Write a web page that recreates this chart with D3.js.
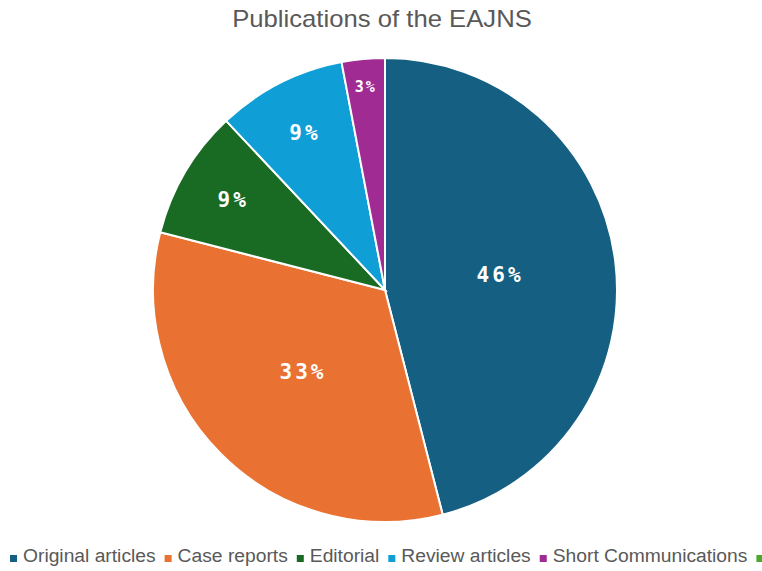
<!DOCTYPE html>
<html>
<head>
<meta charset="utf-8">
<script src="https://cdn.jsdelivr.net/npm/d3@7"></script>
<style>
  body { margin: 0; background: #fff; }
  svg { display: block; }
</style>
</head>
<body>
<svg id="chart" width="762" height="571"></svg>
<script>
// data (percent of all publications)
// the sixth legend entry is cut off at the right edge in the reference, only its marker shows
const categories = ["Original articles", "Case reports", "Editorial", "Review articles", "Short Communications", ""];
const shares = [46, 33, 9, 9, 3, 0];
const colours = ["#156082", "#E97132", "#196B24", "#0F9ED5", "#A02B93", "#4EA72E"];

let svg = d3.select("#chart");
let width = 762, height = 571;
let centre = [385, 290], radius = 232;
let stretch = 1.07; // the reference text is a little wider than plain Arial

svg.append("text")
  .attr("transform", `translate(${width / 2 + 1},27) scale(${stretch},1)`)
  .attr("text-anchor", "middle")
  .attr("font-family", "'Liberation Sans', Arial, sans-serif")
  .attr("font-size", 24)
  .attr("fill", "#595959")
  .text("Publications of the EAJNS");

let data = categories.map((c, i) => ({name: c, value: shares[i], colour: colours[i]}));
let total = d3.sum(shares);

let pie = d3.pie().sort(null).value(d => d.value);
let arc = d3.arc().innerRadius(0).outerRadius(radius);
let arcs = pie(data).filter(d => d.data.value > 0);

let g = svg.append("g").attr("transform", `translate(${centre[0]},${centre[1]})`);

g.selectAll("path")
  .data(arcs)
  .enter().append("path")
    .attr("d", arc)
    .attr("fill", d => d.data.colour)
    .attr("stroke", "#fff")
    .attr("stroke-width", 2);

// label distance depends on slice size, like the Excel best-fit placement
function labelRadius(share){
  if (share > 0.2) return radius * 0.5;
  if (share < 0.05) return radius * 0.88;
  return radius * 0.76;
}

g.selectAll("text")
  .data(arcs)
  .enter().append("text")
    .attr("transform", function(d){
      let share = d.data.value / total;
      let a = (d.startAngle + d.endAngle) / 2;
      let r = labelRadius(share);
      return "translate(" + (Math.sin(a) * r) + "," + (-Math.cos(a) * r) + ")";
    })
    .attr("text-anchor", "middle")
    .attr("dy", "0.33em")
    .attr("font-family", "'DejaVu Sans Mono', 'Liberation Mono', monospace")
    .attr("font-weight", "bold")
    .attr("font-size", d => d.data.value / total < 0.05 ? 15 : 21)
    .attr("letter-spacing", d => d.data.value / total < 0.05 ? 2 : 3)
    .attr("fill", "#fff")
    .text(d => d3.format(".0%")(d.data.value / total));

// legend, laid out left to right, runs off the right edge as in the reference
let legend = svg.append("g").attr("class", "legend");
let x = 10;
data.forEach(function(d){
  legend.append("rect")
    .attr("x", x).attr("y", 555)
    .attr("width", 7).attr("height", 7)
    .attr("fill", d.colour);
  if (!d.name) return;
  let t = legend.append("text")
    .attr("transform", `translate(${x + 13},562) scale(${stretch},1)`)
    .attr("font-family", "'Liberation Sans', Arial, sans-serif")
    .attr("font-size", 18)
    .attr("fill", "#595959")
    .text(d.name);
  x += 13 + t.node().getComputedTextLength() * stretch + 9;
});
</script>
</body>
</html>
